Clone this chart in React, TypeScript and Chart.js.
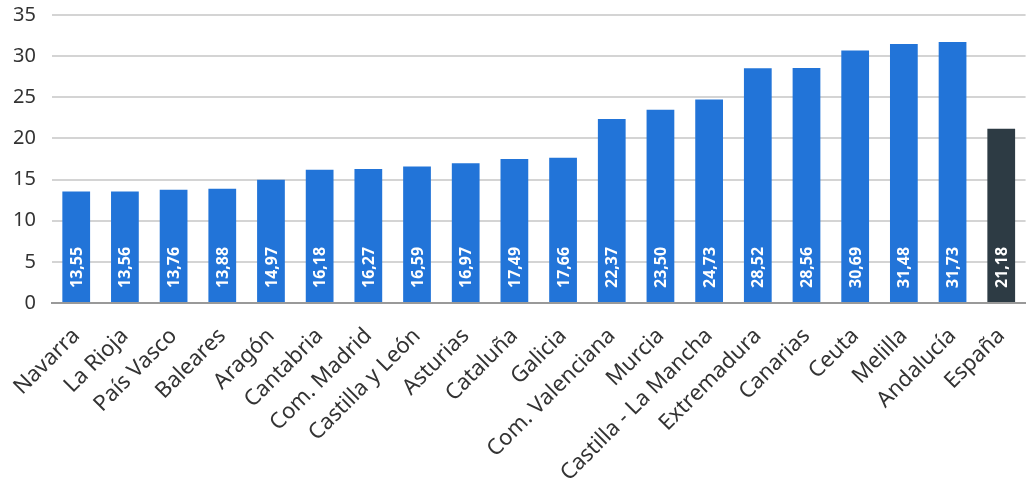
import React, { useEffect, useRef } from "react";
import { Chart, registerables } from "chart.js";

Chart.register(...registerables);

const categories = [
  "Navarra", "La Rioja", "País Vasco", "Baleares", "Aragón", "Cantabria",
  "Com. Madrid", "Castilla y León", "Asturias", "Cataluña", "Galicia",
  "Com. Valenciana", "Murcia", "Castilla - La Mancha", "Extremadura",
  "Canarias", "Ceuta", "Melilla", "Andalucía", "España",
];
const values = [
  13.55, 13.56, 13.76, 13.88, 14.97, 16.18, 16.27, 16.59, 16.97, 17.49,
  17.66, 22.37, 23.5, 24.73, 28.52, 28.56, 30.69, 31.48, 31.73, 21.18,
];
const BLUE = "#2274D8";
const DARK = "#2D3B44";
const barColors = categories.map((c) => (c === "España" ? DARK : BLUE));

const FONT = "'Noto Sans', sans-serif";

const valueLabels = {
  id: "valueLabels",
  afterDatasetsDraw(chart: any) {
    const ctx = chart.ctx;
    const meta = chart.getDatasetMeta(0);
    const yBase = chart.scales.y.getPixelForValue(0);
    ctx.save();
    ctx.fillStyle = "#ffffff";
    ctx.font = `bold 16px ${FONT}`;
    ctx.textAlign = "left";
    ctx.textBaseline = "middle";
    meta.data.forEach((bar: any, i: number) => {
      const txt = values[i].toFixed(2).replace(".", ",");
      ctx.save();
      ctx.translate(bar.x + 1, yBase - 15);
      ctx.rotate(-Math.PI / 2);
      ctx.fillText(txt, 0, 0);
      ctx.restore();
    });
    ctx.restore();
  },
};

export default function App() {
  const ref = useRef<HTMLCanvasElement>(null);
  useEffect(() => {
    document.body.style.margin = "0";
    const chart = new Chart(ref.current!, {
      type: "bar",
      data: {
        labels: categories,
        datasets: [
          {
            data: values,
            backgroundColor: barColors,
            barPercentage: 0.57,
            categoryPercentage: 1,
          },
        ],
      },
      options: {
        animation: false,
        responsive: false,
        maintainAspectRatio: false,
        layout: { padding: { left: -3, right: 4, top: 0, bottom: 0 } },
        plugins: { legend: { display: false }, tooltip: { enabled: false } },
        scales: {
          x: {
            grid: { display: false },
            border: { color: "#999999", width: 2 },
            afterFit: (scale: any) => {
              scale.height = 180;
            },
            ticks: {
              color: "#333333",
              font: { family: FONT, size: 22 },
              minRotation: 45,
              maxRotation: 45,
              padding: 12,
            },
          },
          y: {
            min: 0,
            max: 35,
            afterFit: (scale: any) => {
              scale.paddingTop = 15;
            },
            grid: { color: "#d4d4d4", lineWidth: 2, drawTicks: false },
            border: { display: false },
            ticks: {
              stepSize: 5,
              color: "#333333",
              font: { family: FONT, size: 20 },
              padding: 16,
            },
          },
        },
      },
      plugins: [valueLabels],
    });
    return () => chart.destroy();
  }, []);
  return (
    <div style={{ width: 1032, height: 483 }}>
      <canvas ref={ref} width={1032} height={483} />
    </div>
  );
}
